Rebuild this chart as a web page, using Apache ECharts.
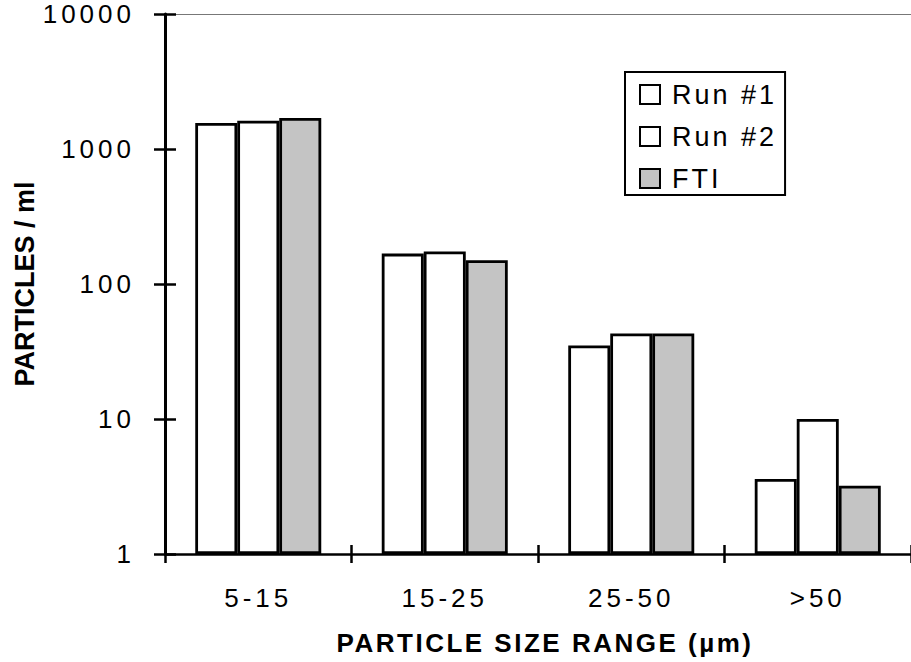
<!DOCTYPE html>
<html>
<head>
<meta charset="utf-8">
<style>
  html, body { margin: 0; padding: 0; background: #fff; }
  #chart { width: 911px; height: 662px; }
</style>
<script src="https://cdn.jsdelivr.net/npm/echarts@6/dist/echarts.min.js"></script>
</head>
<body>
<div id="chart"></div>
<script>
const categories = ['5-15', '15-25', '25-50', '>50'];
const seriesNames = ['Run #1', 'Run #2', 'FTI'];
const run1 = [1560, 168, 35, 3.6];
const run2 = [1620, 174, 43, 10];
const fti = [1700, 150, 43, 3.2];
const yMin = 1;
const yMax = 10000;
const yTickLabels = ['1', '10', '100', '1000', '10000'];
const xAxisTitle = 'PARTICLE SIZE RANGE (µm)';
const yAxisTitle = 'PARTICLES / ml';

const FONT = '"Liberation Sans", Arial, Helvetica, sans-serif';
const NARROW = '"Liberation Sans Narrow", "Arial Narrow", "Liberation Sans", sans-serif';
const chart = echarts.init(document.getElementById('chart'), null, { renderer: 'svg' });

function barSeries(name, data, fill) {
  return {
    name: name,
    type: 'bar',
    data: data,
    barWidth: 42,
    barGap: '0%',
    xAxisIndex: 0,
    yAxisIndex: 0,
    itemStyle: { color: fill, borderColor: '#000', borderWidth: 2.8 },
    emphasis: { disabled: true }
  };
}

const option = {
  animation: false,
  backgroundColor: '#fff',
  grid: { left: 165, top: 14, width: 756, height: 540, containLabel: false },
  legend: {
    data: seriesNames,
    orient: 'vertical',
    left: 625,
    top: 72,
    padding: [9, 26, 3, 14],
    itemWidth: 20,
    itemHeight: 19,
    itemGap: 15,
    icon: 'rect',
    borderColor: '#000',
    borderWidth: 2,
    textStyle: { fontFamily: FONT, fontSize: 27, color: '#000', padding: [0, 0, 0, 7] }
  },
  xAxis: [
    {
      type: 'category',
      data: categories,
      position: 'bottom',
      boundaryGap: true,
      axisLine: { lineStyle: { color: '#000', width: 2.5 } },
      axisTick: { show: true, alignWithLabel: false, length: 9, lineStyle: { color: '#000', width: 2.5 } },
      axisLabel: { margin: 31, fontFamily: FONT, fontSize: 26, color: '#000' },
      name: xAxisTitle,
      nameLocation: 'middle',
      nameGap: 76,
      nameTextStyle: { fontFamily: FONT, fontSize: 26, fontWeight: 'bold', color: '#000', padding: [0, 0, 0, 14] },
      splitLine: { show: false }
    },
    {
      type: 'category',
      data: categories,
      position: 'bottom',
      boundaryGap: true,
      axisLine: { show: false },
      axisTick: { show: true, inside: true, alignWithLabel: false, length: 9, lineStyle: { color: '#000', width: 2.5 } },
      axisLabel: { show: false },
      splitLine: { show: false }
    },
    {
      type: 'category',
      data: categories,
      position: 'top',
      axisLine: { lineStyle: { color: '#777', width: 1 } },
      axisTick: { show: false },
      axisLabel: { show: false },
      splitLine: { show: false }
    }
  ],
  yAxis: [
    {
      type: 'log',
      logBase: 10,
      min: yMin,
      max: yMax,
      position: 'left',
      axisLine: { show: true, lineStyle: { color: '#000', width: 3 } },
      axisTick: { show: true, length: 11, lineStyle: { color: '#000', width: 2.5 } },
      minorTick: { show: false },
      axisLabel: {
        margin: 30, fontFamily: FONT, fontSize: 26, color: '#000',
        formatter: function (v) {
          const i = Math.round(Math.log10(v));
          return yTickLabels[i] !== undefined ? yTickLabels[i] : String(v);
        }
      },
      splitLine: { show: false },
      name: yAxisTitle,
      nameLocation: 'middle',
      nameGap: 127,
      nameTextStyle: { fontFamily: NARROW, fontSize: 27, fontWeight: 'bold', color: '#000' }
    },
    {
      type: 'log',
      logBase: 10,
      min: yMin,
      max: yMax,
      position: 'left',
      offset: 0,
      axisLine: { show: false },
      axisTick: { show: true, inside: true, length: 11, lineStyle: { color: '#000', width: 2.5 } },
      axisLabel: { show: false },
      splitLine: { show: false }
    }
  ],
  series: [
    barSeries(seriesNames[0], run1, '#ffffff'),
    barSeries(seriesNames[1], run2, '#ffffff'),
    barSeries(seriesNames[2], fti, '#c4c4c4')
  ]
};

chart.setOption(option);

function applySpacing() {
  const wide = new Set(categories.concat(yTickLabels));
  const legendSet = new Set(seriesNames);
  document.querySelectorAll('#chart text').forEach(function (t) {
    const s = t.textContent;
    if (wide.has(s)) t.style.letterSpacing = '4px';
    else if (legendSet.has(s)) t.style.letterSpacing = '3px';
    else if (s === xAxisTitle) t.style.letterSpacing = '2.5px';
  });
}
chart.on('finished', applySpacing);
applySpacing();
</script>
</body>
</html>
